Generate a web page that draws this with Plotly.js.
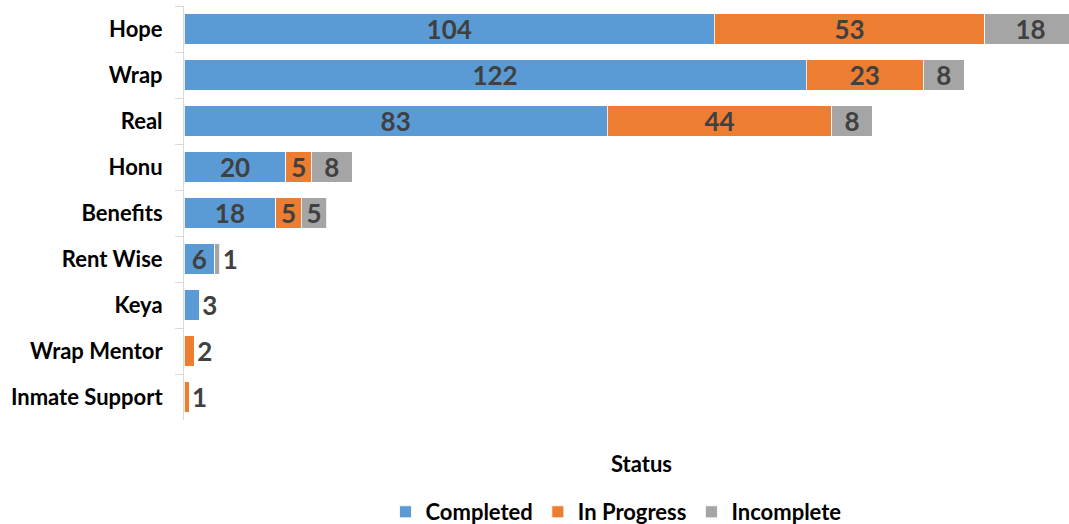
<!DOCTYPE html>
<html>
<head>
<meta charset="utf-8">
<script src="https://cdn.plot.ly/plotly-3.0.1.min.js"></script>
<style>html,body{margin:0;padding:0;background:#fff;overflow:hidden;width:1069px;height:524px;}#chart{width:1080px;height:524px;}</style>
</head>
<body>
<div id="chart"></div>
<script>
const categories = ["Hope", "Wrap", "Real", "Honu", "Benefits", "Rent Wise", "Keya", "Wrap Mentor", "Inmate Support"];
const completed = [104, 122, 83, 20, 18, 6, 3, null, null];
const inProgress = [53, 23, 44, 5, 5, null, null, 2, 1];
const incomplete = [18, 8, 8, 8, 5, 1, null, null, null];
const seriesNames = ["Completed", "In Progress", "Incomplete"];
const colors = ["#5B9BD5", "#ED7D31", "#A5A5A5"];

const FONT = "Lato, 'Open Sans', sans-serif";
const allSeries = [completed, inProgress, incomplete];

// a label is outside when its bar is the last segment of its row and is too narrow
function positions(vals, idx) {
  return vals.map((v, i) => {
    if (v === null) return "none";
    const later = allSeries.slice(idx + 1).some(s => s[i] !== null);
    return (!later && v <= 3) ? "outside" : "inside";
  });
}

const traces = allSeries.map((vals, k) => ({
  type: "bar",
  orientation: "h",
  name: seriesNames[k],
  y: categories,
  x: vals,
  text: vals.map(v => v === null ? "" : String(v)),
  textposition: positions(vals, k),
  textangle: 0,
  insidetextanchor: "middle",
  constraintext: "none",
  cliponaxis: false,
  textfont: {family: FONT, size: 26, color: "#404040", weight: "bold"},
  marker: {color: colors[k], line: {color: "rgba(255,255,255,0.8)", width: 1}},
  hoverinfo: "x+y+name"
}));

// the chart is drawn slightly wider than the window, so the longest bar is cut at the right edge
const W = 1080, L = 184;
const layout = {
  width: W, height: 524,
  margin: {l: L, r: 0, t: 6, b: 104, pad: 0, autoexpand: false},
  barmode: "stack",
  bargap: 0.33,
  paper_bgcolor: "#fff", plot_bgcolor: "#fff",
  showlegend: true,
  xaxis: {range: [0, 175.7], showgrid: false, zeroline: false, showticklabels: false, ticks: "", showline: false, fixedrange: true},
  yaxis: {
    autorange: "reversed", type: "category",
    showline: true, linecolor: "#d9d9d9", linewidth: 1,
    ticks: "outside", tickson: "boundaries", ticklen: 8, tickcolor: "#d9d9d9",
    showgrid: false, zeroline: false,
    ticklabelstandoff: 16,
    tickfont: {family: FONT, size: 22, color: "#000", weight: "bold"}
  },
  legend: {
    orientation: "h", x: (616 - L) / (W - L), xanchor: "center", y: (420 - 512) / 414, yanchor: "middle",
    font: {family: FONT, size: 22, color: "#000", weight: "bold"},
    itemwidth: 30, traceorder: "normal"
  },
  annotations: [{
    text: "Status", xref: "paper", yref: "paper", x: (641 - L) / (W - L), y: (420 - 463) / 414,
    xanchor: "center", yanchor: "middle", showarrow: false,
    font: {family: FONT, size: 22, color: "#000", weight: "bold"}
  }]
};

Plotly.newPlot("chart", traces, layout, {displayModeBar: false, staticPlot: true});
</script>
</body>
</html>
